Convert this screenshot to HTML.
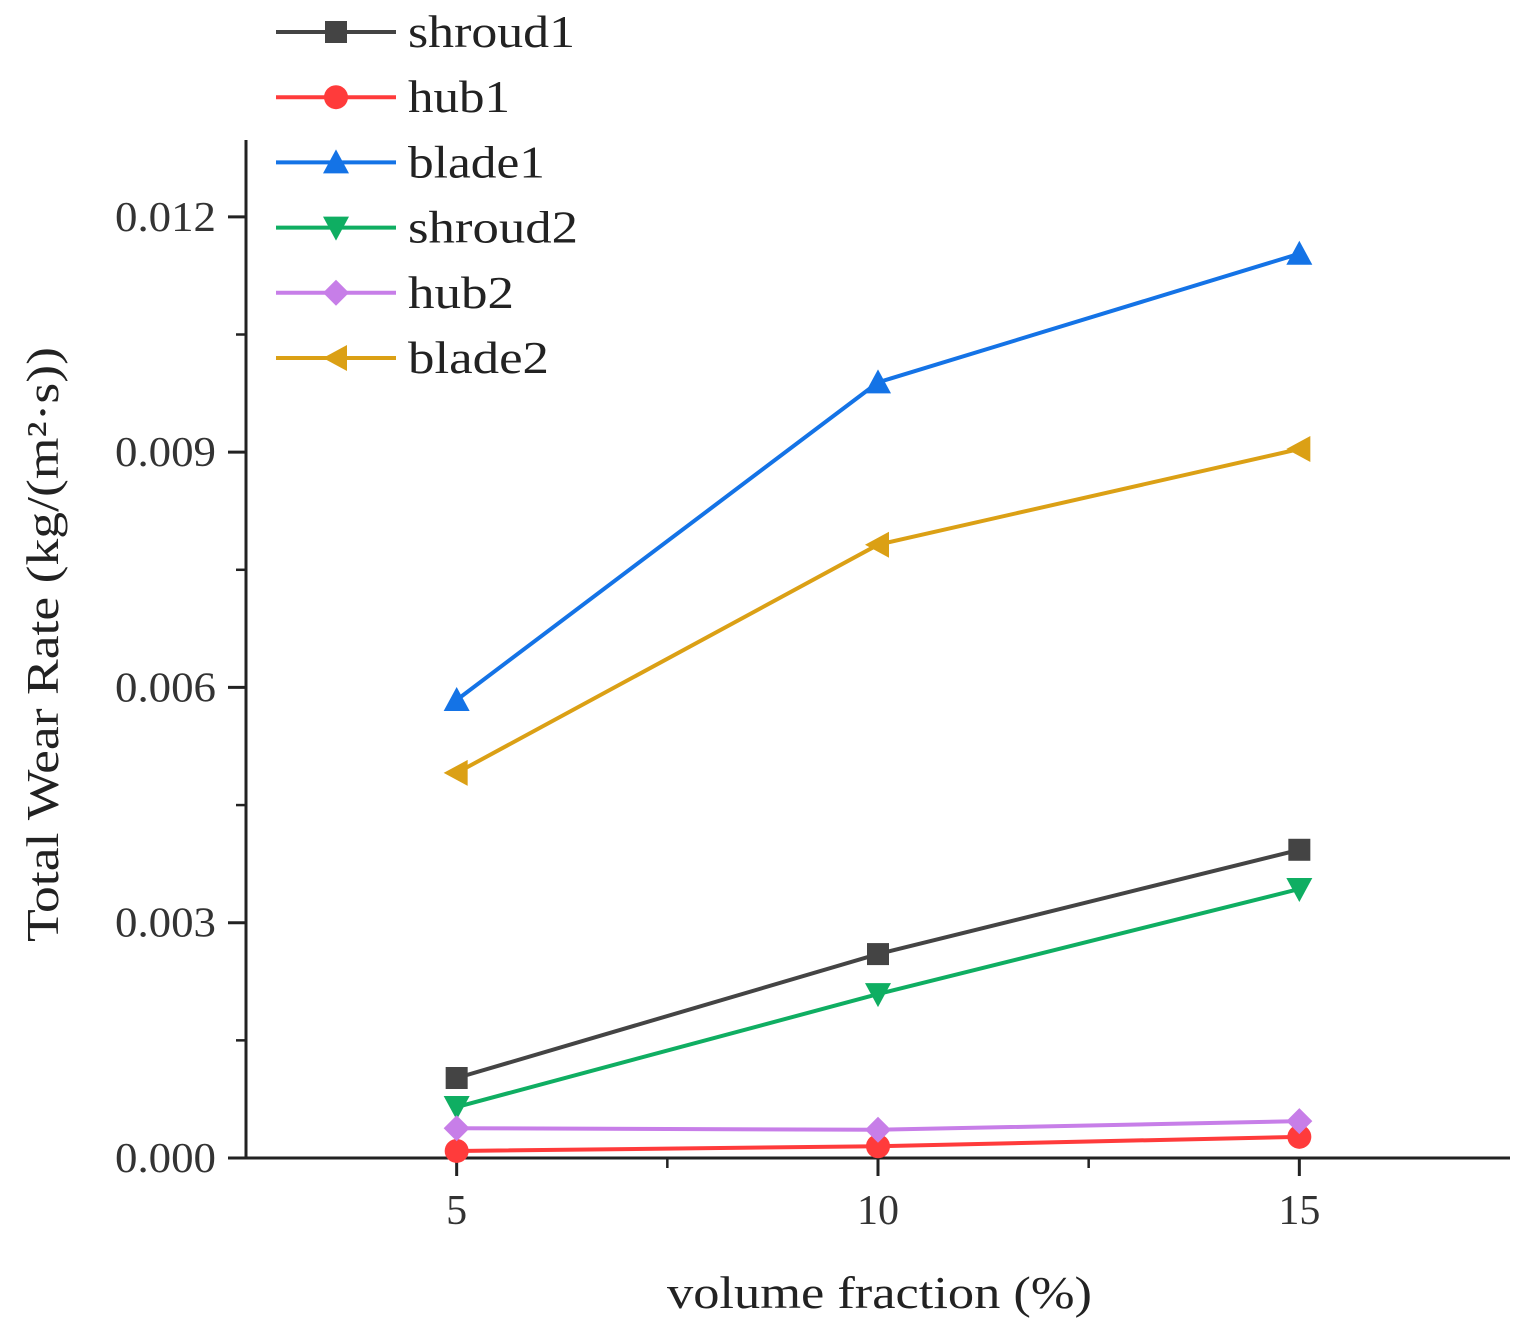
<!DOCTYPE html>
<html><head><meta charset="utf-8"><style>
html,body{margin:0;padding:0;background:#fff;}
svg{display:block;font-family:"Liberation Serif",serif;}
</style></head><body>
<svg id="chart" width="1528" height="1330" viewBox="0 0 1528 1330" xmlns="http://www.w3.org/2000/svg">
<g id="axes"></g>
<g id="series"></g>
<g id="legend"></g>
<text x="667" y="1308" font-size="46" fill="#222" textLength="425" lengthAdjust="spacingAndGlyphs">volume fraction (%)</text>
<text transform="translate(58,942) rotate(-90)" font-size="46" fill="#222" textLength="595" lengthAdjust="spacingAndGlyphs">Total Wear Rate (kg/(m²·s))</text>
</svg>
<script>
const categories = [5, 10, 15];
const seriesNames = ["shroud1","hub1","blade1","shroud2","hub2","blade2"];
const shroud1 = [0.00102, 0.00260, 0.00393];
const hub1 = [0.00009, 0.00015, 0.00027];
const blade1 = [0.00584, 0.00989, 0.01153];
const shroud2 = [0.00065, 0.00209, 0.00343];
const hub2 = [0.00038, 0.00036, 0.00047];
const blade2 = [0.00491, 0.00782, 0.00904];
const yTicks = ["0.000","0.003","0.006","0.009","0.012"];
const xTicks = ["5","10","15"];

const NS="http://www.w3.org/2000/svg";
const X0=246, X1=1510, Y0=1158, Y1=140;
const xmin=2.5, xmax=17.5, ymin=0, ymax=0.01298;
const xs=v=>X0+(v-xmin)/(xmax-xmin)*(X1-X0);
const ys=v=>Y0-(v-ymin)/(ymax-ymin)*(Y0-Y1);
function mk(tag,attrs,parent){const e=document.createElementNS(NS,tag);for(const k in attrs)e.setAttribute(k,attrs[k]);parent.appendChild(e);return e;}
const axes=document.getElementById('axes');
let l=mk('line',{x1:X0,y1:Y0,x2:X1,y2:Y0,stroke:'#222','stroke-width':3},axes);


l=mk('line',{x1:X0,y1:Y0+1,x2:X0,y2:Y1,stroke:'#222','stroke-width':3},axes);


xTicks.forEach(t=>{const x=xs(+t);
 const tk=mk('line',{x1:x,y1:Y0,x2:x,y2:Y0+18,stroke:'#222','stroke-width':3},axes);
 
 
 const tx=mk('text',{x:x,y:Y0+66,'text-anchor':'middle','font-size':42,fill:'#333'},axes);tx.textContent=t;
 
 });
[7.5,12.5].forEach(v=>{const x=xs(v);const tk=mk('line',{x1:x,y1:Y0,x2:x,y2:Y0+10,stroke:'#222','stroke-width':2.5},axes);
 
 });
yTicks.forEach(t=>{const y=ys(+t);
 const tk=mk('line',{x1:X0,y1:y,x2:X0-18,y2:y,stroke:'#222','stroke-width':3},axes);
 
 
 const tx=mk('text',{x:115,y:y+14,'font-size':42,fill:'#333',textLength:101,lengthAdjust:'spacingAndGlyphs'},axes);tx.textContent=t;
 
 });
[0.0015,0.0045,0.0075,0.0105].forEach(v=>{const y=ys(v);const tk=mk('line',{x1:X0,y1:y,x2:X0-10,y2:y,stroke:'#222','stroke-width':2.5},axes);
 
 });

const colors={shroud1:'#444444',hub1:'#ff3b3b',blade1:'#1473e6',shroud2:'#0fae62',hub2:'#c77ee8',blade2:'#dba015'};
const shapes={shroud1:'square',hub1:'circle',blade1:'up',shroud2:'down',hub2:'diamond',blade2:'left'};
const legendW={shroud1:167,hub1:102,blade1:137,shroud2:170,hub2:106,blade2:141};
const data={shroud1,hub1,blade1,shroud2,hub2,blade2};
function marker(shape,x,y,c,p){const s=11;let pts;
 if(shape==='square')return mk('rect',{x:x-s,y:y-s,width:2*s,height:2*s,fill:c},p);
 if(shape==='circle')return mk('circle',{cx:x,cy:y,r:s+1,fill:c},p);
 if(shape==='up')pts=[[x,y-s-2],[x+s+2,y+s],[x-s-2,y+s]];
 if(shape==='down')pts=[[x,y+s+2],[x+s+2,y-s],[x-s-2,y-s]];
 if(shape==='left')pts=[[x-s-2,y],[x+s,y-s-2],[x+s,y+s+2]];
 if(shape==='diamond')pts=[[x,y-s-2],[x+s+2,y],[x,y+s+2],[x-s-2,y]];
 return mk('polygon',{points:pts.map(q=>q.join(',')).join(' '),fill:c},p);}
const sg=document.getElementById('series');
seriesNames.forEach(n=>{const vals=data[n];const c=colors[n];
 const g=mk('g',{},sg);
 
 
 const pl=mk('polyline',{points:categories.map((x,i)=>xs(x)+','+ys(vals[i])).join(' '),fill:'none',stroke:c,'stroke-width':4},g);
 
 
 categories.forEach((x,i)=>{const m=marker(shapes[n],xs(x),ys(vals[i]),c,g);
  
  });});
const lg=document.getElementById('legend');
seriesNames.forEach((n,i)=>{const y=32+i*65.2;const c=colors[n];
 const g=mk('g',{},lg);
 
 
 mk('line',{x1:276,y1:y,x2:396,y2:y,stroke:c,'stroke-width':4},g);
 marker(shapes[n],336,y,c,g);
 const t=mk('text',{x:408,y:y+15,'font-size':46,fill:'#222',textLength:legendW[n],lengthAdjust:'spacingAndGlyphs'},g);t.textContent=n;});
</script>
</body></html>
